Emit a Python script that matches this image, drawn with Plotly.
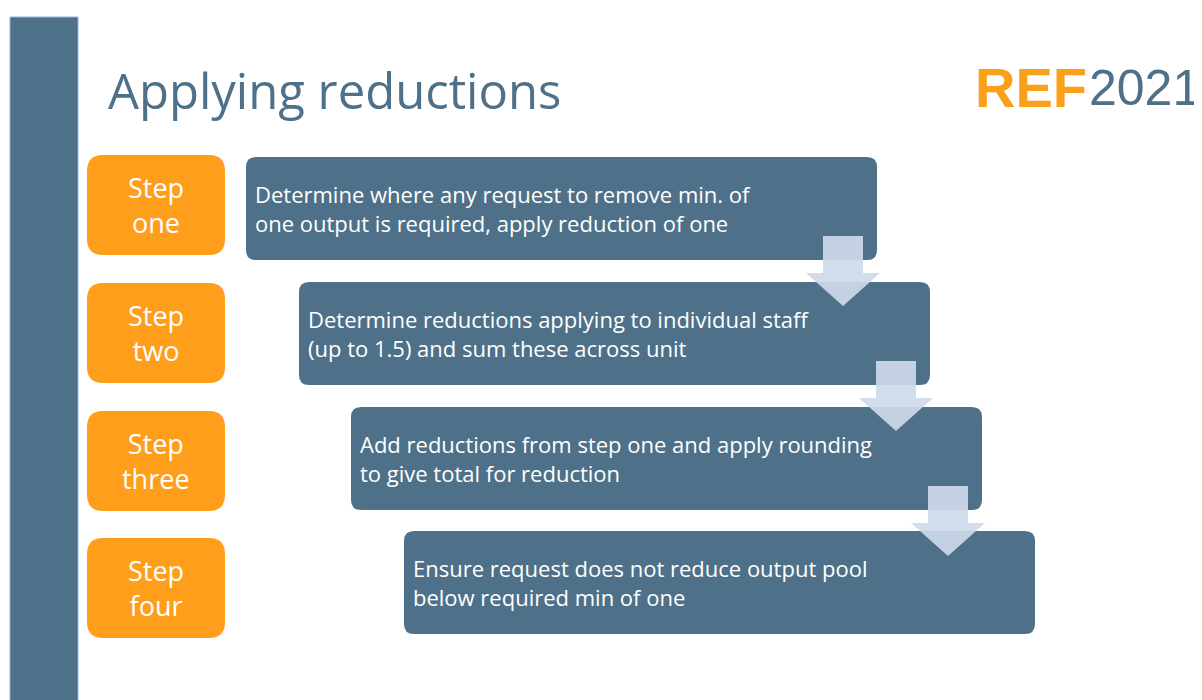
import plotly.graph_objects as go

# ---- content ----
title_text = "Applying reductions"
logo_left = "REF"
logo_right = "2021"
step_labels = [["Step", "one"], ["Step", "two"], ["Step", "three"], ["Step", "four"]]
step_texts = [
    ["Determine where any request to remove min. of", "one output is required, apply reduction of one"],
    ["Determine reductions applying to individual staff", "(up to 1.5) and sum these across unit"],
    ["Add reductions from step one and apply rounding", "to give total for reduction"],
    ["Ensure request does not reduce output pool", "below required min of one"],
]

# ---- style / layout constants ----
W, H = 1202, 700
OFF = 8  # page body margin in the browser
BLUE = "#4E7189"
ORANGE = "#FF9E1B"
ARROW = "rgba(205,217,234,0.92)"
FONT = "Open Sans"

step_box_x = (87, 225)
step_box_y0 = [155, 283, 411, 538]
step_box_h = 100
desc_x0 = [246, 299, 351, 404]
desc_y0 = [157, 282, 407, 531]
desc_w, desc_h = 631, 103


def rrect(x0, y0, x1, y1, r):
    return (f"M{x0+r},{y0} L{x1-r},{y0} Q{x1},{y0} {x1},{y0+r} "
            f"L{x1},{y1-r} Q{x1},{y1} {x1-r},{y1} L{x0+r},{y1} "
            f"Q{x0},{y1} {x0},{y1-r} L{x0},{y0+r} Q{x0},{y0} {x0+r},{y0} Z")


shapes = []
annotations = []

# left vertical bar
shapes.append(dict(type="rect", x0=10, x1=78, y0=17, y1=705, fillcolor=BLUE,
                   line=dict(color="#8FB3D6", width=1), layer="below"))

for i in range(4):
    # step box
    y0 = step_box_y0[i]
    shapes.append(dict(type="path", path=rrect(step_box_x[0], y0, step_box_x[1], y0 + step_box_h, 16),
                       fillcolor=ORANGE, line=dict(width=0)))
    annotations.append(dict(x=(step_box_x[0] + step_box_x[1]) / 2, y=y0 + 50,
                            text="<br>".join(step_labels[i]), showarrow=False,
                            xanchor="center", yanchor="middle", align="center",
                            font=dict(family=FONT, size=27, color="white")))
    # description box
    dx, dy = desc_x0[i], desc_y0[i]
    shapes.append(dict(type="path", path=rrect(dx, dy, dx + desc_w, dy + desc_h, 10),
                       fillcolor=BLUE, line=dict(width=0)))
    annotations.append(dict(x=dx + 7, y=dy + 51, text="<br>".join(step_texts[i]), showarrow=False,
                            xanchor="left", yanchor="middle", align="left",
                            font=dict(family=FONT, size=22, color="white")))

# arrows between description boxes
for i in range(3):
    cx = desc_x0[i] + desc_w - 34
    top = desc_y0[i] + 79
    sw, hw = 20, 37
    hy = top + 37
    tip = hy + 33
    path = (f"M{cx-sw},{top} L{cx+sw},{top} L{cx+sw},{hy} L{cx+hw},{hy} "
            f"L{cx},{tip} L{cx-hw},{hy} L{cx-sw},{hy} Z")
    shapes.append(dict(type="path", path=path, fillcolor=ARROW, line=dict(width=0)))

# title
annotations.append(dict(x=106, y=90, text=title_text, showarrow=False, xanchor="left",
                        yanchor="middle", font=dict(family=FONT, size=49, color=BLUE)))
# logo
annotations.append(dict(x=1089, y=87, text=f"<b>{logo_left}</b>", showarrow=False, xanchor="right",
                        yanchor="middle",
                        font=dict(family="Liberation Sans", size=56, color="#F9A11B")))
annotations.append(dict(x=1087, y=88, text=logo_right, showarrow=False, xanchor="left",
                        yanchor="middle",
                        font=dict(family="Liberation Sans", size=50, color=BLUE)))

fig = go.Figure()
fig.update_layout(
    width=W - OFF, height=H - OFF, margin=dict(l=0, r=0, t=0, b=0),
    paper_bgcolor="white", plot_bgcolor="white",
    xaxis=dict(range=[OFF, W], visible=False, fixedrange=True),
    yaxis=dict(range=[H, OFF], visible=False, fixedrange=True),
    shapes=shapes, annotations=annotations, showlegend=False,
)
fig.write_html("out.html", config={"displayModeBar": False})
